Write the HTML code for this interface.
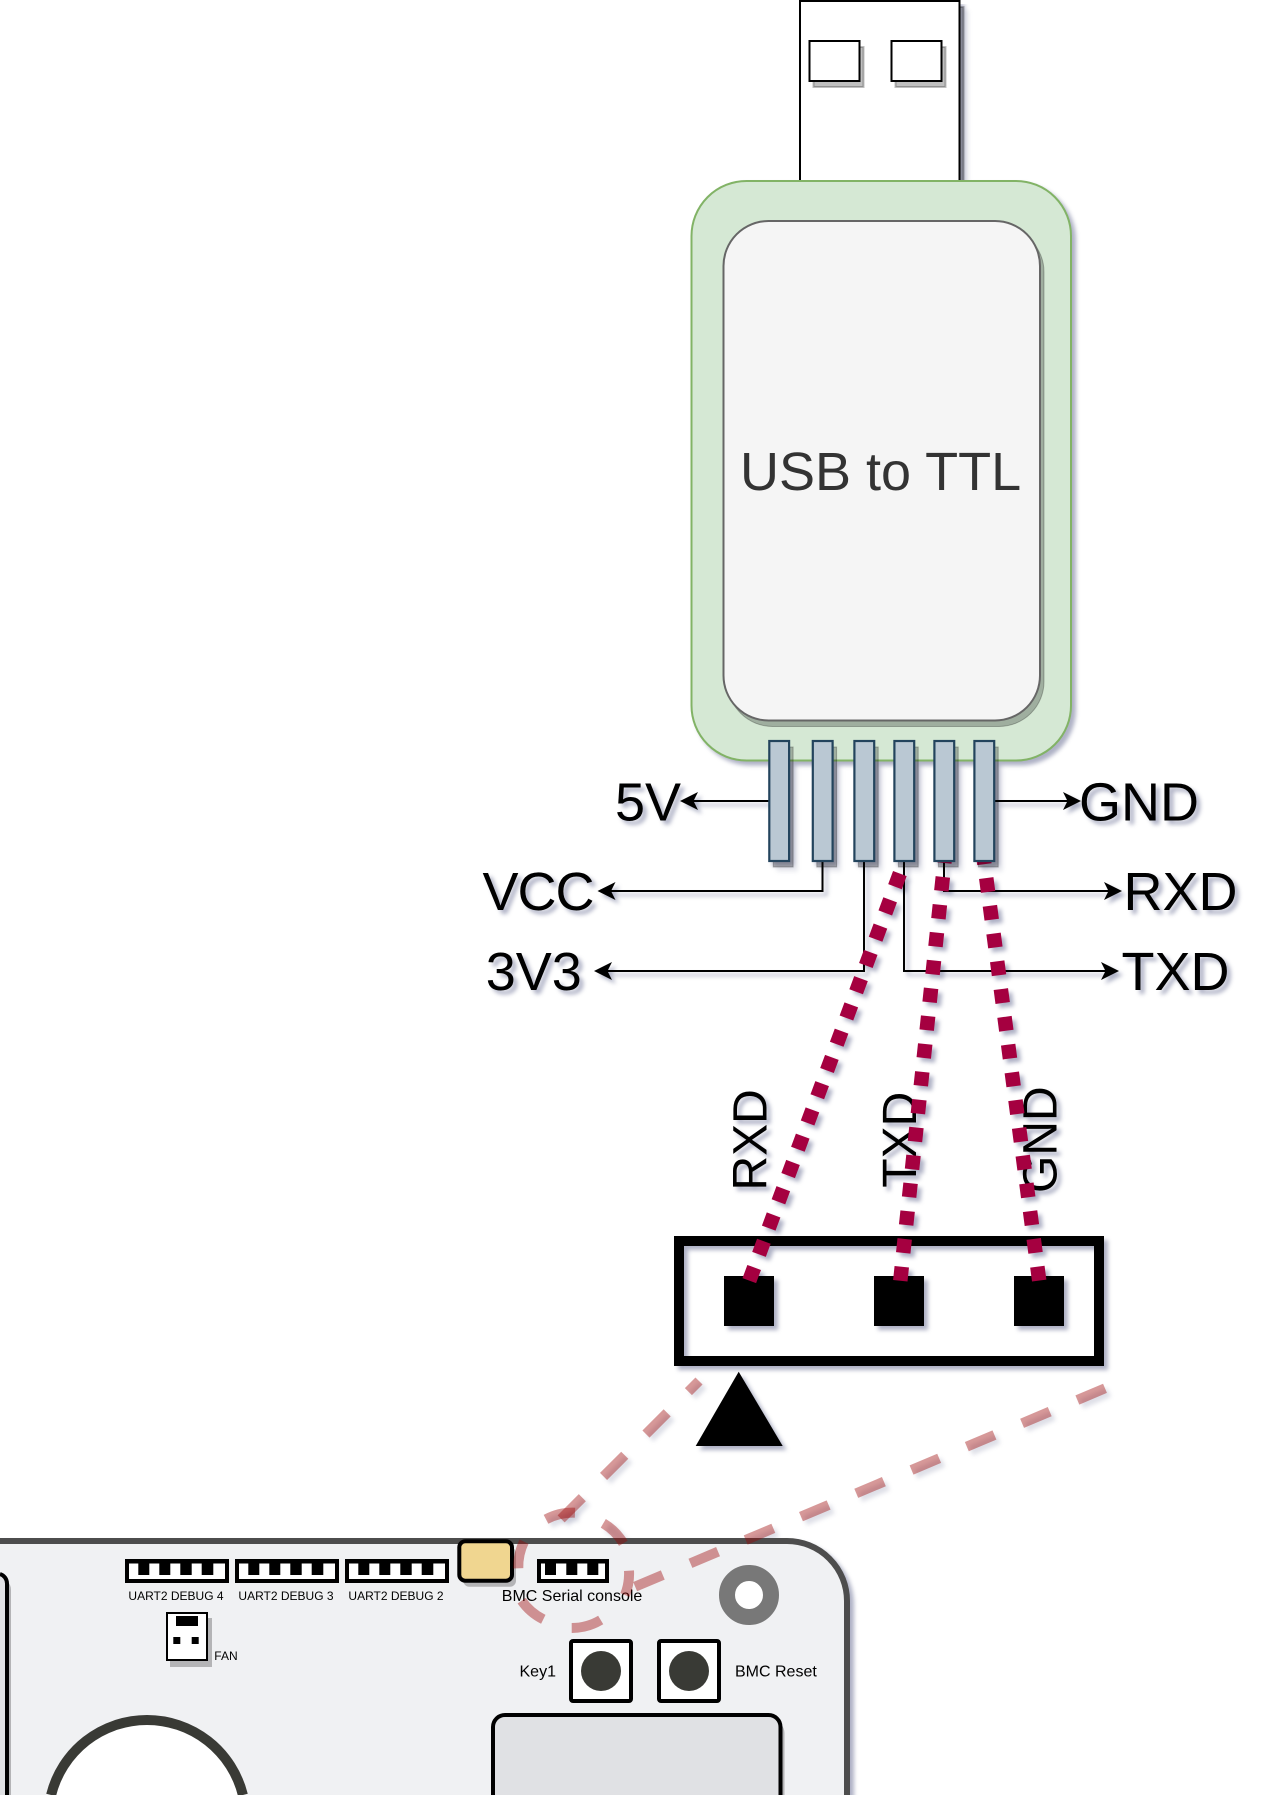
<!DOCTYPE html>
<html>
<head>
<meta charset="utf-8">
<style>
html,body{margin:0;padding:0;background:#fff;width:1268px;height:1795px;overflow:hidden;}
svg{display:block;}
text{font-family:"Liberation Sans",Arial,sans-serif;fill:#000;}
.big{font-size:54px;}
.v{font-size:48px;}
.s{font-size:12px;}
.m{font-size:16px;}
.wire{fill:none;stroke:#000;stroke-width:2;}
.red{fill:none;stroke:#a50040;stroke-width:14.5;stroke-dasharray:14 14;}
.pale{fill:none;stroke:#9a0000;stroke-opacity:.4;stroke-width:10;}
.sh{fill:#000;fill-opacity:.25;stroke:#000;stroke-opacity:.25;}
.pin{fill:#bac8d3;stroke:#23445d;stroke-width:2.2;}
</style>
</head>
<body>
<svg xmlns="http://www.w3.org/2000/svg" width="1268" height="1795" viewBox="0 0 1268 1795">
<defs>
<filter id="ds" filterUnits="userSpaceOnUse" x="0" y="0" width="1268" height="1795" color-interpolation-filters="sRGB">
<feGaussianBlur in="SourceAlpha" stdDeviation="2.2" result="blur"/>
<feOffset in="blur" dx="4" dy="4" result="ob"/>
<feFlood flood-color="#3D4574" flood-opacity="0.42" result="c"/>
<feComposite in="c" in2="ob" operator="in" result="ob2"/>
<feBlend in="SourceGraphic" in2="ob2"/>
</filter>
</defs>
<rect width="1268" height="1795" fill="#fff"/>
<g filter="url(#ds)">
<!-- USB plug -->
<rect class="sh" x="804" y="7" width="159.5" height="180" stroke-width="2"/>
<rect x="800" y="1" width="159.5" height="180" fill="#fff" stroke="#000" stroke-width="2"/>
<rect class="sh" x="813.5" y="47" width="50" height="40" stroke-width="2" stroke="none"/>
<rect x="809.5" y="41" width="50" height="40" fill="#fff" stroke="#000" stroke-width="2"/>
<rect class="sh" x="895.5" y="47" width="50" height="40" stroke-width="2" stroke="none"/>
<rect x="891.5" y="41" width="50" height="40" fill="#fff" stroke="#000" stroke-width="2"/>

<!-- body -->
<rect x="691.5" y="181" width="379.5" height="579.5" rx="55" ry="55" fill="#d5e8d4" stroke="#82b366" stroke-width="2"/>
<rect class="sh" x="727.5" y="227" width="316.5" height="499.5" rx="45" ry="45" stroke="none" style="fill-opacity:.25"/>
<rect x="723.5" y="221" width="316.5" height="499.5" rx="45" ry="45" fill="#f5f5f5" stroke="#666" stroke-width="2"/>
<text x="740" y="490" font-size="54" style="fill:#333">USB to TTL</text>

<!-- wires -->
<path class="wire" d="M769 801H690"/>
<path d="M680 801L698 792L693.5 801L698 810Z" fill="#000"/>
<path class="wire" d="M822.5 861V891H607"/>
<path d="M597.5 891L615.5 882L611 891L615.5 900Z" fill="#000"/>
<path class="wire" d="M864 861V971H604"/>
<path d="M594 971L612 962L607.5 971L612 980Z" fill="#000"/>
<path class="wire" d="M994 801H1071"/>
<path d="M1081 801L1063 792L1067.5 801L1063 810Z" fill="#000"/>
<path class="wire" d="M944 861V891H1112"/>
<path d="M1122 891L1104 882L1108.5 891L1104 900Z" fill="#000"/>
<path class="wire" d="M904 861V971H1109"/>
<path d="M1119 971L1101 962L1105.5 971L1101 980Z" fill="#000"/>

<text class="big" x="615" y="820.5">5V</text>
<text class="big" x="482.5" y="910" letter-spacing="-1">VCC</text>
<text class="big" x="485.7" y="990">3V3</text>
<text class="big" x="1079" y="820.5">GND</text>
<text class="big" x="1123.5" y="910">RXD</text>
<text class="big" x="1121.5" y="990">TXD</text>

<!-- 3-pin connector -->
<rect x="679" y="1241" width="420" height="120" fill="none" stroke="#000" stroke-width="10"/>
<rect x="724" y="1276" width="50" height="50" fill="#000"/>
<rect x="874" y="1276" width="50" height="50" fill="#000"/>
<rect x="1014" y="1276" width="50" height="50" fill="#000"/>
<path d="M738.7 1371.7L782.7 1446H695.7Z" fill="#000"/>
<text class="v" transform="translate(766.5 1190.5) rotate(-90)">RXD</text>
<text class="v" transform="translate(916 1187.7) rotate(-90)">TXD</text>
<text class="v" transform="translate(1056.7 1193) rotate(-90)">GND</text>

<!-- board -->
<path d="M0 1541H787A60 60 0 0 1 847 1601V1795H0Z" fill="#f0f1f3"/>
<path d="M0 1541H787A60 60 0 0 1 847 1601V1795" fill="none" stroke="#4d4d4d" stroke-width="6"/>
<path d="M0 1579.5H1A10 10 0 0 1 11 1589.5V1795H0Z" fill="#000" fill-opacity=".25"/>
<path d="M0 1574A10 10 0 0 1 7 1583.5V1795H0Z" fill="#e0e1e4"/>
<path d="M0 1574A10 10 0 0 1 7 1583.5V1795" fill="none" stroke="#000" stroke-width="4"/>

<!-- UART connectors -->
<g>
<rect x="127" y="1561" width="100" height="20" fill="#fff" stroke="#000" stroke-width="4"/>
<path d="M129 1561H225V1563.5H129ZM138.3 1563H149.3V1575H138.3ZM159.3 1563H170.3V1575H159.3ZM180.3 1563H191.7V1575H180.3ZM201.7 1563H213.3V1575H201.7Z" fill="#000"/>
</g>
<g transform="translate(110 0)">
<rect x="127" y="1561" width="100" height="20" fill="#fff" stroke="#000" stroke-width="4"/>
<path d="M129 1561H225V1563.5H129ZM138.3 1563H149.3V1575H138.3ZM159.3 1563H170.3V1575H159.3ZM180.3 1563H191.7V1575H180.3ZM201.7 1563H213.3V1575H201.7Z" fill="#000"/>
</g>
<g transform="translate(220 0)">
<rect x="127" y="1561" width="100" height="20" fill="#fff" stroke="#000" stroke-width="4"/>
<path d="M129 1561H225V1563.5H129ZM138.3 1563H149.3V1575H138.3ZM159.3 1563H170.3V1575H159.3ZM180.3 1563H191.7V1575H180.3ZM201.7 1563H213.3V1575H201.7Z" fill="#000"/>
</g>
<text class="s" x="176" y="1600" text-anchor="middle">UART2 DEBUG 4</text>
<text class="s" x="286" y="1600" text-anchor="middle">UART2 DEBUG 3</text>
<text class="s" x="396" y="1600" text-anchor="middle">UART2 DEBUG 2</text>

<!-- FAN -->
<rect x="170" y="1618" width="42" height="49" fill="#000" fill-opacity=".25"/>
<rect x="167" y="1613" width="40" height="47" fill="#fff" stroke="#000" stroke-width="2"/>
<rect x="176" y="1616" width="22" height="10" fill="#000"/>
<rect x="173.3" y="1637" width="7" height="7" fill="#000"/>
<rect x="191.7" y="1637" width="7" height="7" fill="#000"/>
<text class="s" x="214.3" y="1660">FAN</text>

<!-- big circle -->
<path d="M51.1 1795A98.8 98.8 0 0 1 242.9 1795" fill="#fff" stroke="#393a35" stroke-width="10"/>

<!-- yellow block -->
<rect x="463.3" y="1547.3" width="52.7" height="39.4" rx="6" fill="#000" fill-opacity=".25"/>
<rect x="459.3" y="1541.3" width="52.7" height="39.4" rx="6" fill="#f0d690" stroke="#000" stroke-width="4"/>

<!-- BMC connector -->
<rect x="539" y="1561" width="68" height="20" fill="#fff" stroke="#000" stroke-width="4"/>
<path d="M541 1561H605V1563.5H541ZM545 1563H556V1575H545ZM566.3 1563H577.3V1575H566.3ZM587.3 1563H598.3V1575H587.3Z" fill="#000"/>
<text class="m" x="501.8" y="1601">BMC Serial console</text>

<!-- nut -->
<circle cx="749" cy="1595" r="22" fill="#fff" stroke="#787878" stroke-width="16"/>

<!-- buttons -->
<rect x="571" y="1641" width="60" height="60" rx="2" fill="#fff" stroke="#000" stroke-width="4"/>
<circle cx="601" cy="1671" r="20" fill="#393a35"/>
<rect x="659" y="1641" width="60" height="60" rx="2" fill="#fff" stroke="#000" stroke-width="4"/>
<circle cx="689" cy="1671" r="20" fill="#393a35"/>
<text class="m" x="519.5" y="1676.6">Key1</text>
<text class="m" x="735" y="1676.6">BMC Reset</text>

<!-- lower rect -->
<path d="M497 1795V1733A12 12 0 0 1 509 1721H772.5A12 12 0 0 1 784.5 1733V1795Z" fill="#000" fill-opacity=".25"/>
<path d="M493 1795V1727A12 12 0 0 1 505 1715H768.5A12 12 0 0 1 780.5 1727V1795" fill="#e0e1e4" stroke="#000" stroke-width="4"/>

<!-- pale dashed -->
<path class="pale" d="M1105 1388.3L635 1586.7" stroke-dasharray="30 30"/>
<path class="pale" d="M699 1381L561 1519" stroke-dasharray="15 30 30 30 30 30 30 30"/>
<path class="pale" d="M546 1519.3A57 57 0 0 1 575 1512.7"/>
<path class="pale" d="M603.3 1523.3A57 57 0 0 1 623.3 1543.3"/>
<path class="pale" d="M629 1570.7A57 57 0 0 1 625 1595"/>
<path class="pale" d="M600.7 1620A57 57 0 0 1 571.7 1628"/>
<path class="pale" d="M543.3 1619.3A57 57 0 0 1 521.7 1600.7"/>
<path class="pale" d="M518.3 1568.3A57 57 0 0 1 524 1541.7"/>

<!-- red dotted -->
<path class="red" d="M749.3 1280.6L904.5 861"/>
<path class="red" d="M900.3 1280.7L944.5 861"/>
<path class="red" d="M1039.2 1280.6L984 861"/>

<!-- pins -->
<rect class="sh" x="773.3" y="747" width="19.8" height="120" stroke="none"/>
<rect class="pin" x="769.3" y="741" width="19.8" height="120"/>
<rect class="sh" x="816.8" y="747" width="19.8" height="120" stroke="none"/>
<rect class="pin" x="812.8" y="741" width="19.8" height="120"/>
<rect class="sh" x="858.4" y="747" width="19.8" height="120" stroke="none"/>
<rect class="pin" x="854.4" y="741" width="19.8" height="120"/>
<rect class="sh" x="898.4" y="747" width="19.8" height="120" stroke="none"/>
<rect class="pin" x="894.4" y="741" width="19.8" height="120"/>
<rect class="sh" x="938.4" y="747" width="19.8" height="120" stroke="none"/>
<rect class="pin" x="934.4" y="741" width="19.8" height="120"/>
<rect class="sh" x="978.4" y="747" width="19.8" height="120" stroke="none"/>
<rect class="pin" x="974.4" y="741" width="19.8" height="120"/>
</g>
</svg>
</body>
</html>
